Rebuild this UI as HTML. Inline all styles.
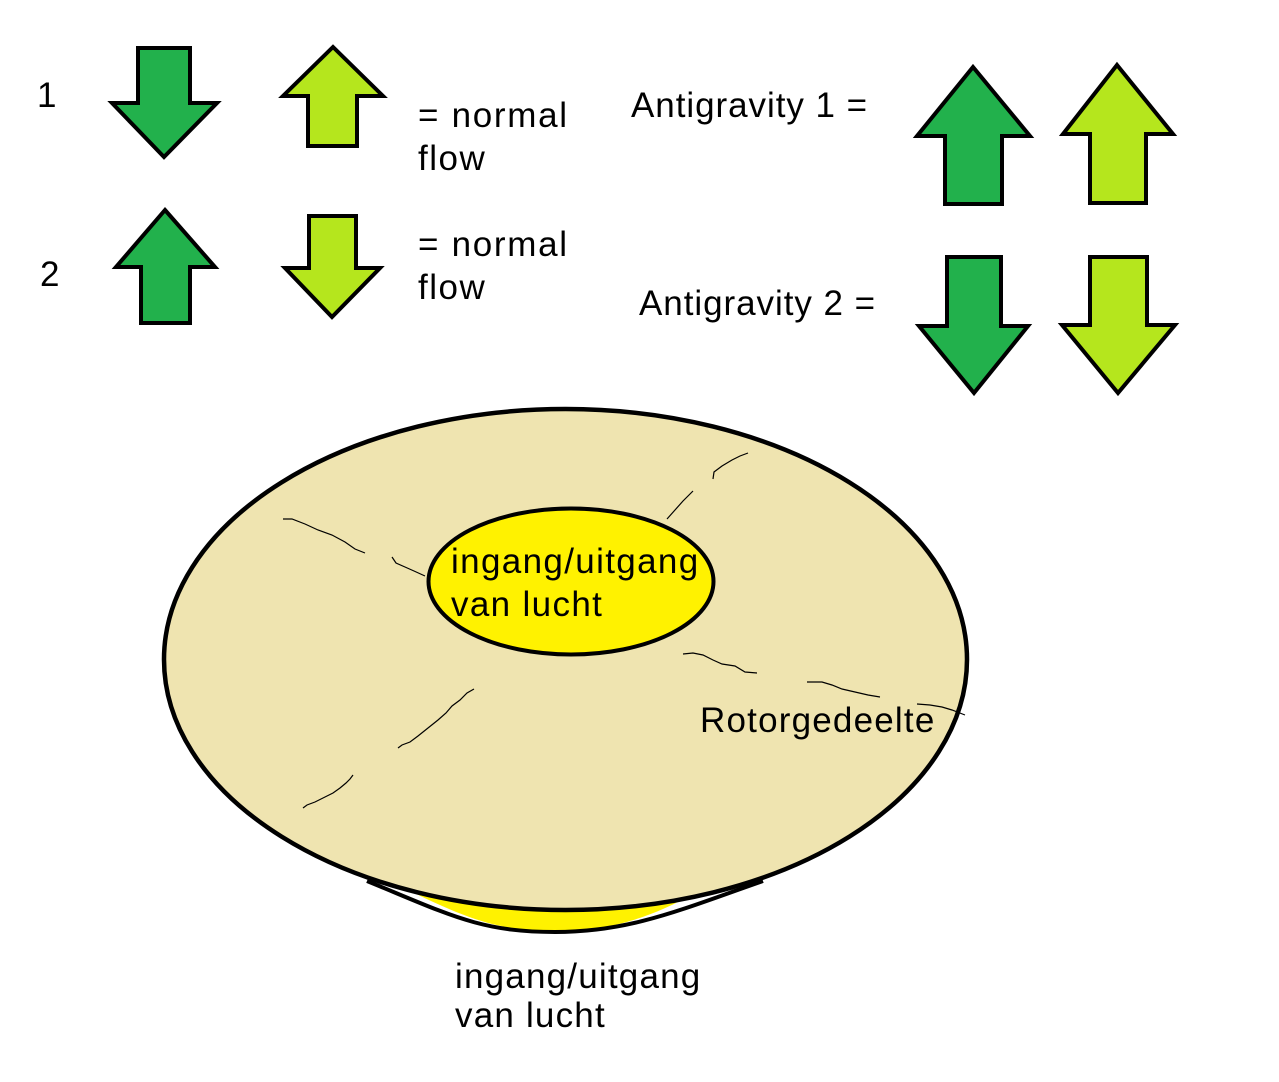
<!DOCTYPE html>
<html><head><meta charset="utf-8"><style>
html,body{margin:0;padding:0;background:#fff;}
svg{display:block;}
text{font-family:"Liberation Sans",Arial,sans-serif;font-size:35px;letter-spacing:1.2px;fill:#000;}
</style></head><body>
<svg width="1279" height="1082" viewBox="0 0 1279 1082" xmlns="http://www.w3.org/2000/svg">
<rect width="1279" height="1082" fill="#fff"/>
<g stroke="#000" stroke-width="4" stroke-linejoin="miter">
<polygon fill="#22b14c" points="138,48 190,48 190,103 217,103 164,157 112,103 138,103"/>
<polygon fill="#b5e61d" points="333,47 383,96 357,96 357,146 308,146 308,96 283,96"/>
<polygon fill="#22b14c" points="165,210 215,267 190,267 190,323 141,323 141,267 116,267"/>
<polygon fill="#b5e61d" points="309,216 356,216 356,268 380,268 332,317 285,268 309,268"/>
<polygon fill="#22b14c" points="973,67 1030,136 1002,136 1002,204 945,204 945,136 917,136"/>
<polygon fill="#b5e61d" points="1117,65 1173,134 1146,134 1146,203 1090,203 1090,134 1063,134"/>
<polygon fill="#22b14c" points="947,257 1001,257 1001,326 1028,326 974,393 919,326 947,326"/>
<polygon fill="#b5e61d" points="1090,257 1147,257 1147,325 1175,325 1118,393 1062,325 1090,325"/>
</g>

<!-- bottom lens -->
<path d="M410 891 C470 920 500 931 555 931 C610 931 650 918 695 893 L555 880 Z" fill="#fff200"/>
<path d="M367 881 C450 915 480 932 555 932 C630 932 680 910 763 881" fill="none" stroke="#000" stroke-width="4"/>

<!-- big ellipse -->
<ellipse cx="565.5" cy="659.5" rx="401.5" ry="250.5" fill="#efe4b0" stroke="#000" stroke-width="4.5"/>

<!-- cracks -->
<g fill="none" stroke="#000" stroke-width="1.2">
<path d="M283 519 L292 519 L305 524 L318 530 L332 535 L345 542 L355 549 L365 553"/>
<path d="M392 557 L396 563 L405 567 L414 571 L425 576"/>
<path d="M667 519 L675 510 L683 501 L693 491"/>
<path d="M713 479 L714 472 L722 466 L732 460 L740 456 L748 453"/>
<path d="M683 654 L693 653 L703 655 L713 660 L722 664 L735 666 L745 672 L757 673"/>
<path d="M807 682 L822 682 L832 685 L842 689 L855 692 L868 695 L880 697"/>
<path d="M917 704 L930 705 L942 707 L952 710 L965 715"/>
<path d="M398 748 L402 745 L410 742 L418 736 L428 728 L438 720 L446 713 L452 706 L460 700 L467 693 L474 689"/>
<path d="M303 808 L307 805 L315 802 L325 797 L333 793 L340 788 L346 783 L350 779 L353 775"/>
</g>

<!-- inner ellipse -->
<ellipse cx="571" cy="581.5" rx="142.5" ry="73" fill="#fff200" stroke="#000" stroke-width="4"/>

<!-- text -->
<text x="37" y="107">1</text>
<text x="40" y="286">2</text>
<text x="418" y="127" style="letter-spacing:1.7px">= normal</text>
<text x="418" y="170" style="letter-spacing:1.5px">flow</text>
<text x="418" y="256" style="letter-spacing:1.7px">= normal</text>
<text x="418" y="299" style="letter-spacing:1.5px">flow</text>
<text x="631" y="117" style="letter-spacing:0.95px">Antigravity 1 =</text>
<text x="639" y="315" style="letter-spacing:0.95px">Antigravity 2 =</text>
<text x="451" y="573" style="letter-spacing:1.35px">ingang/uitgang</text>
<text x="451" y="616" style="letter-spacing:1.35px">van lucht</text>
<text x="700" y="732" style="letter-spacing:1.2px">Rotorgedeelte</text>
<text x="455" y="988" style="letter-spacing:1.2px">ingang/uitgang</text>
<text x="455" y="1027" style="letter-spacing:1.2px">van lucht</text>
</svg>
</body></html>
